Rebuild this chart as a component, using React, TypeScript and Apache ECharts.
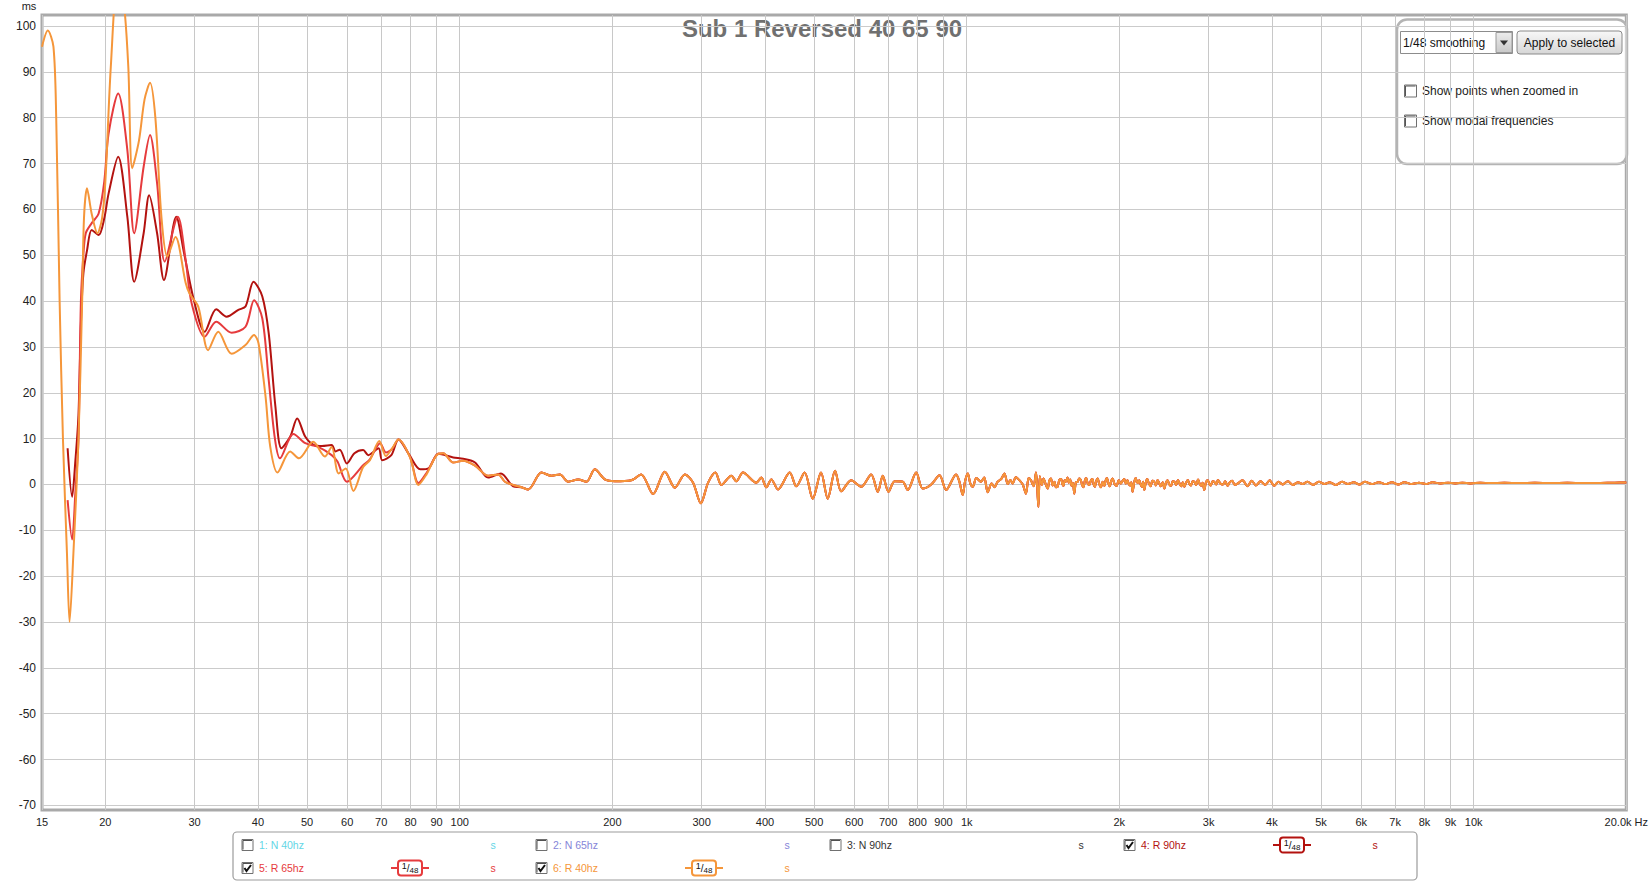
import React, { useEffect, useRef } from 'react';
import * as echarts from 'echarts';

const TITLE = 'Sub 1 Reversed 40 65 90';
const Y_UNIT = 'ms';
const FONT = '"Liberation Sans", Arial, sans-serif';

const yTicks = [-70, -60, -50, -40, -30, -20, -10, 0, 10, 20, 30, 40, 50, 60, 70, 80, 90, 100];
const xTickValues = [15, 20, 30, 40, 50, 60, 70, 80, 90, 100, 200, 300, 400, 500, 600, 700, 800, 900, 1000, 2000, 3000, 4000, 5000, 6000, 7000, 8000, 9000, 10000, 20000];
const xTickLabels = ['15', '20', '30', '40', '50', '60', '70', '80', '90', '100', '200', '300', '400', '500', '600', '700', '800', '900', '1k', '2k', '3k', '4k', '5k', '6k', '7k', '8k', '9k', '10k', '20.0k Hz'];

// 6: R 40hz (orange), low-frequency part
const r40Low: [number, number][] = [
  [15.0, 95.5], [15.4, 99], [15.8, 95.5], [16.0, 80], [16.25, 40], [16.5, 9.7], [16.8, -15], [17.0, -30], [17.3, -15],
  [17.7, 9.7], [18.0, 40], [18.15, 58], [18.4, 64.6], [18.8, 59], [19.3, 54.8], [19.7, 58], [20.0, 66], [20.5, 91],
  [21.2, 112], [21.8, 104], [22.2, 91], [22.6, 69], [23.3, 75], [23.9, 84], [24.5, 87.6], [25.1, 80], [25.8, 58.4],
  [26.5, 49.7], [27.5, 54], [28.8, 44], [29.3, 41.7], [30.5, 38.8], [31.9, 29.3], [33.4, 33.3], [35.5, 28.5],
  [37.8, 30.4], [39.3, 32.6], [40.1, 30.8], [41.4, 19.2], [42.3, 8.2], [43.7, 2.6], [46.3, 7.2], [48.2, 5.7],
  [51.4, 9.3], [54.2, 6.1], [55.9, 8.2], [57.7, 2.4], [59.6, 3.5], [61.7, -1.4], [64.5, 3.8], [66.5, 5.3],
  [69.4, 9.5], [71.5, 6.2], [73.6, 7.9], [75.7, 9.8], [79.8, 5.9], [82.9, -0.1], [86.0, 2.2], [90.7, 6.7],
  [92.8, 6.8], [97.1, 4.8], [101.6, 5.2], [107.2, 4.1], [113.8, 1.9], [119.1, 2.2], [122.8, 0.6], [127.5, -0.1],
  [132.4, -0.6], [136.5, -1.1],
];

// 5: R 65hz (red), low-frequency part
const r65Low: [number, number][] = [
  [16.85, -3.4], [17.2, -12], [17.45, -2], [17.7, 9.7], [17.9, 40], [18.1, 50], [18.3, 54.8], [18.8, 57], [19.4, 59.1],
  [19.9, 66], [20.3, 76.6], [21.2, 85.3], [22.1, 73], [22.8, 54.8], [23.8, 69.3], [24.5, 76.2], [25.3, 65.7],
  [26.2, 48.6], [27.8, 58.4], [28.8, 49], [29.6, 39.5], [31.4, 32.2], [33.1, 35.5], [35.5, 33.1], [37.8, 34.4],
  [39.3, 40.2], [40.8, 36.2], [42.0, 22.8], [43.2, 10], [44.2, 5.7], [47.0, 11], [49.6, 9], [52.6, 8.2],
  [55.9, 6.4], [57.4, 5.0], [59.9, 0.6], [64.5, 4.2], [66.5, 5.5], [69.7, 9], [71.5, 7], [73.6, 7.8], [75.7, 9.8],
  [79.8, 6], [82.9, 0.3], [86.0, 2.5], [90.7, 6.7], [92.8, 6.8], [97.1, 4.8], [101.6, 5.2], [107.2, 4.1],
  [113.8, 1.9], [119.1, 2.2], [122.8, 0.6], [127.5, -0.1], [132.4, -0.6], [136.5, -1.1],
];

// 4: R 90hz (dark red), low-frequency part
const r90Low: [number, number][] = [
  [16.85, 7.9], [17.2, -2.7], [17.45, 5], [17.7, 15], [17.9, 35], [18.1, 46], [18.4, 51], [18.8, 55.5], [19.4, 54.4],
  [19.9, 58], [20.3, 63.5], [21.2, 71.5], [22.1, 58.4], [22.8, 44.2], [23.8, 54.8], [24.4, 63.1], [25.3, 54.8],
  [26.1, 44.6], [27.6, 58.4], [28.6, 50.4], [29.9, 40.2], [31.4, 33.3], [33.1, 38.2], [34.7, 36.6], [36.6, 38.1],
  [37.8, 38.8], [39.2, 44.2], [40.8, 41], [42.0, 33], [43.3, 17], [44.5, 7.9], [46.3, 10.4], [47.8, 14.4],
  [49.6, 10.4], [51.6, 8.6], [53.5, 8.4], [55.9, 8.6], [56.9, 7.2], [58.0, 7.6], [59.9, 4.6], [62.0, 6.8],
  [64.5, 7.5], [66.0, 6.4], [69.2, 7.9], [70.3, 5.3], [73.3, 6.4], [75.7, 9.8], [79.5, 6.5], [83.6, 3.3],
  [87.0, 3.6], [90.7, 6.7], [97.1, 5.9], [101.6, 5.6], [107.2, 4.8], [113.8, 1.5], [120.6, 2.4], [127.5, -0.4],
  [132.4, -0.6], [136.5, -1.1],
];

// shared tail above ~140 Hz (all three traces overlap)
const sharedTail: [number, number][] = [
  [145, 2.6], [151.7, 1.9], [157.6, 2.2], [163.7, 0.6], [171.3, 1.1], [177.8, 0.6], [184.7, 3.3], [193.3, 1.1],
  [202.3, 0.7], [218, 0.9], [228, 2.2], [240.7, -2.1], [253.8, 2.8], [265.7, -0.7], [278, 2.2], [288.6, 0.4],
  [298.9, -4.1], [309, 0.4], [319.4, 2.6], [328.2, -0.1], [343.4, 1.9], [351.2, 0.7], [362, 2.6], [384.6, 0.4],
  [393.4, 1.5], [402.5, -0.6], [411.8, 1.1], [424.4, -1.1], [447.6, 2.6], [461.2, -0.4], [479, 2.6], [497, -3.1],
  [516, 2.6], [532, -3.1], [550, 3.0], [565.6, -1.5], [591.8, 0.9], [619, -0.5], [648, 2.2], [668, -1.6],
  [683, 1.9], [701, -1.6], [721, 0.7], [748, 0.6], [765, -1.2], [795, 2.6], [819, -0.9], [851, 0], [884, 2.0],
  [911, -1.2], [953, 2.2], [968, 0.5], [982, -2.3], [993, 0.8], [1005, 2.4], [1016, 0.3], [1028, -0.5],
  [1045, 1.4], [1067, 0.6], [1083, 1.5], [1100, -1.7], [1120, 0.2], [1135, -0.6], [1151, 0.6], [1170, 1.2],
  [1187, 2.4], [1205, 0.1], [1220, 1.0], [1232, 0.2], [1250, 1.6], [1271, 0.9], [1290, 0.0], [1309, -2.0],
  [1325, 1.4], [1339, 0.9], [1355, -0.4], [1370, 2.6], [1378, -1.0], [1385, -4.9], [1394, 1.8], [1406, -0.1],
  [1418, 1.3], [1430, 0.2], [1445, -0.9], [1455, 0.8], [1466, 1.3], [1478, -0.2], [1490, 0.6], [1500, -0.6],
  [1511, -0.5], [1523, 1.0], [1535, 1.2], [1544, 0.1], [1552, -0.3], [1560, 0.9], [1569, 0.6], [1580, 1.5],
  [1590, 0.4], [1600, 1.1], [1610, -0.3], [1620, 0.4], [1630, -2.0], [1642, 0.5], [1655, 0.6], [1667, 1.3],
  [1680, 0.9], [1690, -0.2], [1700, -0.6], [1710, 0.8], [1720, 1.4], [1733, 0.2], [1746, -0.1], [1758, 0.9],
  [1770, 1.2], [1780, 0.0], [1790, -0.5], [1800, 0.7], [1812, 1.3], [1826, 0.1], [1840, -0.6], [1854, 0.6],
  [1868, -0.3], [1880, 0.9], [1890, 1.4], [1903, 0.3], [1915, -0.4], [1928, 0.8], [1940, 1.3], [1957, 0.1],
  [1975, -0.3], [1995, 0.9], [2014, 0.2], [2030, 0.8], [2045, 1.2], [2060, 0.2], [2076, 0.9], [2088, 0.1],
  [2100, -0.2], [2112, 0.5], [2124, -1.6], [2140, 0.5], [2155, 1.4], [2172, 0.3], [2190, 0.9], [2203, 0.0],
  [2215, -0.5], [2228, 0.6], [2240, -1.2], [2255, 0.4], [2270, 1.2], [2288, 0.2], [2305, -0.4], [2325, 0.8],
  [2344, 0.6], [2362, -0.2], [2380, 1.0], [2397, 0.3], [2415, -0.4], [2435, 0.5], [2454, -0.9], [2472, 0.4],
  [2490, 0.9], [2510, 0.0], [2530, -0.3], [2549, 0.7], [2568, 0.6], [2590, -0.1], [2610, 1.0], [2630, 0.2],
  [2650, -0.4], [2668, 0.5], [2687, -0.5], [2708, 0.4], [2730, 1.0], [2750, 0.1], [2770, -0.2], [2790, 0.7],
  [2811, 0.6], [2835, -0.1], [2860, 1.1], [2880, 0.2], [2900, -0.3], [2920, 0.4], [2941, -1.2], [2965, 0.5],
  [2990, 0.9], [3010, 0.1], [3030, -0.2], [3055, 0.7], [3078, 0.6], [3105, 0.0], [3130, 1.0], [3165, 0.2],
  [3200, 0.0], [3235, 0.7], [3270, -0.3], [3305, 0.5], [3340, 0.8], [3380, -0.1], [3422, 0.2], [3500, 0.9],
  [3580, -0.4], [3650, 0.8], [3720, -0.2], [3800, 0.7], [3880, -0.1], [3960, 0.9], [4040, -0.3], [4120, 0.6],
  [4200, 0.0], [4300, 0.7], [4400, -0.1], [4500, 0.5], [4600, 0.1], [4700, 0.6], [4820, -0.1], [4950, 0.6],
  [5080, 0.1], [5200, 0.5], [5350, -0.1], [5500, 0.6], [5650, 0.1], [5800, 0.5], [5950, 0.0], [6100, 0.6],
  [6300, 0.1], [6500, 0.5], [6700, 0.1], [6900, 0.5], [7100, 0.0], [7300, 0.5], [7550, 0.1], [7800, 0.4],
  [8050, 0.1], [8300, 0.5], [8600, 0.2], [8900, 0.4], [9200, 0.2], [9500, 0.4], [9850, 0.2], [10300, 0.4],
  [10800, 0.3], [11500, 0.4], [12300, 0.3], [13200, 0.4], [14200, 0.3], [15300, 0.4], [16500, 0.3],
  [17800, 0.35], [19000, 0.4], [20000, 0.45],
];

const legendNames = ['1: N 40hz', '2: N 65hz', '3: N 90hz', '4: R 90hz', '5: R 65hz', '6: R 40hz'];
const legendColors = ['#63d6e6', '#8585d8', '#333333', '#b3120f', '#e63b3d', '#f5963a'];
const legendChecked = [false, false, false, true, true, true];
const legendSmoothing = ['', '', '', '1/48', '1/48', '1/48'];

const seriesNames = ['4: R 90hz', '5: R 65hz', '6: R 40hz'];
const seriesColors = ['#b3120f', '#e63b3d', '#f5963a'];
const seriesData = [r90Low.concat(sharedTail), r65Low.concat(sharedTail), r40Low.concat(sharedTail)];

const panelSmoothing = '1/48 smoothing';
const panelButton = 'Apply to selected';
const panelOptions = ['Show points when zoomed in', 'Show modal frequencies'];

function txt(text: string, x: number, y: number, size: number, fill: string, align = 'left', extra: any = {}) {
  return {
    type: 'text',
    silent: true,
    style: {
      text, x, y, fill,
      fontSize: size, fontFamily: FONT,
      align, verticalAlign: 'middle', textAlign: align, textVerticalAlign: 'middle',
      ...extra,
    },
  };
}

function checkbox(x: number, y: number, size: number, checked: boolean) {
  const els: any[] = [
    { type: 'rect', silent: true, shape: { x, y, width: size, height: size }, style: { fill: '#ffffff', stroke: '#707070', lineWidth: 1 } },
    { type: 'polyline', silent: true, shape: { points: [[x + 1, y + size - 1], [x + 1, y + 1], [x + size - 1, y + 1]] }, style: { fill: 'none', stroke: '#505050', lineWidth: 1 } },
  ];
  if (checked) {
    els.push({
      type: 'polyline', silent: true,
      shape: { points: [[x + 2.5, y + 5.5], [x + 4.5, y + 8.5], [x + size - 2, y + 2.5]] },
      style: { fill: 'none', stroke: '#111111', lineWidth: 2 },
    });
  }
  return els;
}

function buildLegend() {
  const els: any[] = [];
  els.push({ type: 'rect', silent: true, shape: { x: 233, y: 832, width: 1184, height: 48, r: 4 }, style: { fill: '#ffffff', stroke: '#9c9c9c', lineWidth: 1.2 } });
  const colX = [242, 536, 830, 1124];
  const rowY = [845, 868];
  const slots = [[0, 0], [0, 1], [0, 2], [0, 3], [1, 0], [1, 1]];
  legendNames.forEach((name, i) => {
    const [r, c] = slots[i];
    const x = colX[c];
    const y = rowY[r];
    els.push(...checkbox(x, y - 5.5, 11, legendChecked[i]));
    els.push(txt(name, x + 17, y, 10.5, legendColors[i]));
    if (legendSmoothing[i]) {
      const bx = x + 168;
      const parts = legendSmoothing[i].split('/');
      els.push({ type: 'line', silent: true, shape: { x1: bx - 19, y1: y, x2: bx + 19, y2: y }, style: { stroke: legendColors[i], lineWidth: 2 } });
      els.push({ type: 'rect', silent: true, shape: { x: bx - 12, y: y - 7.5, width: 24, height: 15, r: 3 }, style: { fill: '#ffffff', stroke: legendColors[i], lineWidth: 2 } });
      els.push({
        type: 'text', silent: true,
        style: {
          text: `{a|${parts[0]}}{b|/}{c|${parts[1]}}`,
          x: bx, y: y, align: 'center', verticalAlign: 'middle', textAlign: 'center', textVerticalAlign: 'middle',
          fill: '#111', fontFamily: FONT,
          rich: {
            a: { fontSize: 9, fill: '#111', fontFamily: FONT, padding: [0, 0, 4, 0] },
            b: { fontSize: 10, fill: '#111', fontFamily: FONT },
            c: { fontSize: 8, fill: '#111', fontFamily: FONT, padding: [4, 0, 0, 0] },
          },
        },
      });
    }
    els.push(txt('s', x + 251, y, 10.5, legendColors[i], 'center'));
  });
  return els;
}

function buildPanel() {
  const grad = new echarts.graphic.LinearGradient(0, 0, 0, 1, [
    { offset: 0, color: '#f8f8f8' },
    { offset: 1, color: '#d6d6d6' },
  ]);
  const grad2 = new echarts.graphic.LinearGradient(0, 0, 0, 1, [
    { offset: 0, color: '#ececec' },
    { offset: 1, color: '#c9c9c9' },
  ]);
  const els: any[] = [
    { type: 'rect', silent: true, shape: { x: 1397, y: 19.5, width: 230, height: 144.5, r: 10 }, style: { fill: 'rgba(255,255,255,0.6)', stroke: '#b4b4b4', lineWidth: 2.5 } },
    { type: 'rect', silent: true, shape: { x: 1400.5, y: 31.5, width: 112, height: 22 }, style: { fill: '#ffffff', stroke: '#8c8c8c', lineWidth: 1 } },
    { type: 'rect', silent: true, shape: { x: 1496, y: 32.5, width: 16, height: 20 }, style: { fill: grad2, stroke: '#9a9a9a', lineWidth: 1 } },
    { type: 'polygon', silent: true, shape: { points: [[1500, 40.5], [1508, 40.5], [1504, 45.5]] }, style: { fill: '#333333' } },
    txt(panelSmoothing, 1403, 42.5, 12, '#111111'),
    { type: 'rect', silent: true, shape: { x: 1517, y: 31, width: 105, height: 23, r: 3 }, style: { fill: grad, stroke: '#8a8a8a', lineWidth: 1 } },
    txt(panelButton, 1569.5, 42.5, 12, '#111111', 'center'),
  ];
  panelOptions.forEach((label, i) => {
    const y = 91 + i * 30;
    els.push({ type: 'rect', silent: true, shape: { x: 1404.5, y: y - 6, width: 12, height: 12 }, style: { fill: '#ffffff', stroke: '#707070', lineWidth: 1 } });
    els.push({ type: 'polyline', silent: true, shape: { points: [[1405.5, y + 5], [1405.5, y - 5], [1415.5, y - 5]] }, style: { fill: 'none', stroke: '#555555', lineWidth: 1 } });
    els.push(txt(label, 1422, y, 12, '#222222'));
  });
  return els;
}

function buildOption(): any {
  return {
    animation: false,
    backgroundColor: '#ffffff',
    textStyle: { fontFamily: FONT },
    grid: {
      left: 42, right: 20, top: 15, bottom: 72,
      show: true, borderColor: '#a9a9a9', borderWidth: 3, backgroundColor: 'transparent',
    },
    xAxis: {
      type: 'log', logBase: 10, min: 15, max: 20000,
      axisLine: { show: false },
      axisTick: { show: false, customValues: xTickValues },
      axisLabel: {
        customValues: xTickValues,
        fontSize: 11, color: '#222222', margin: 6, fontFamily: FONT,
        formatter: (v: number) => {
          const i = xTickValues.findIndex((t) => Math.abs(t - v) / t < 1e-6);
          return i >= 0 ? xTickLabels[i] : '';
        },
      },
      splitLine: { show: true, lineStyle: { color: '#c8c8c8', width: 1 } },
    },
    yAxis: {
      type: 'value', min: -71, max: 102.4,
      axisLine: { show: false },
      axisTick: { show: false, customValues: yTicks },
      axisLabel: { customValues: yTicks, fontSize: 12, color: '#222222', margin: 6, fontFamily: FONT },
      splitLine: { show: true, lineStyle: { color: '#cbcbcb', width: 1 } },
    },
    series: seriesNames.map((name, i) => ({
      type: 'line',
      name,
      data: seriesData[i],
      symbol: 'none',
      showSymbol: false,
      smooth: 0.3,
      clip: true,
      lineStyle: { color: seriesColors[i], width: 2 },
      z: 2 + i,
    })),
    graphic: [
      txt(Y_UNIT, 29, 6, 11, '#222222', 'center'),
      txt(TITLE, 822, 28, 24, '#707070', 'center', { fontWeight: 'bold' }),
      ...buildPanel(),
      ...buildLegend(),
    ],
  };
}

export default function App() {
  const ref = useRef<HTMLDivElement>(null);
  useEffect(() => {
    if (!ref.current) return;
    const chart = echarts.init(ref.current, null, { renderer: 'svg' });
    chart.setOption(buildOption());
    return () => chart.dispose();
  }, []);
  return (
    <div
      ref={ref}
      style={{ position: 'fixed', left: 0, top: 0, width: 1651, height: 882, background: '#ffffff' }}
    />
  );
}
